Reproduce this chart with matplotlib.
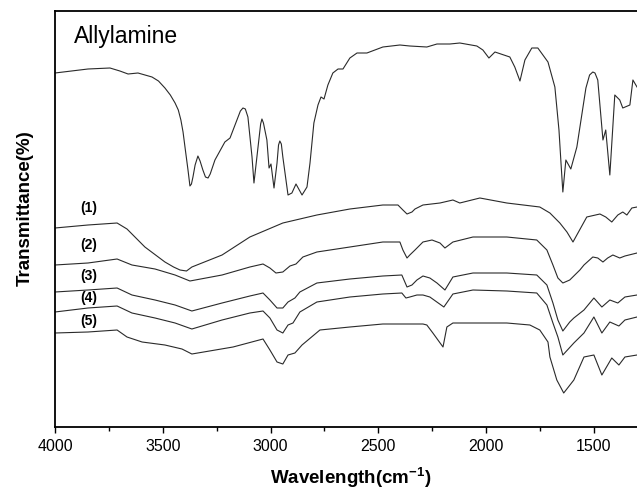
import matplotlib
matplotlib.use("Agg")
import matplotlib.pyplot as plt
from matplotlib.ticker import MultipleLocator

plt.rcParams['font.family'] = ['Liberation Sans', 'DejaVu Sans']
plt.rcParams['mathtext.fontset'] = 'custom'
plt.rcParams['mathtext.bf'] = 'Liberation Sans:bold'
plt.rcParams['mathtext.rm'] = 'Liberation Sans'

# allylamine reference spectrum (arbitrary transmittance units)
wn_ally = [4000, 3847, 3745, 3699, 3661, 3615, 3550, 3520, 3490, 3465, 3443, 3428, 3416,
           3406, 3397, 3383, 3374, 3367, 3360, 3350, 3337, 3327, 3314, 3302, 3290, 3280,
           3258, 3212, 3188, 3156, 3140, 3128, 3117, 3105, 3086, 3077, 3046, 3040, 3033,
           3017, 3007, 2998, 2984, 2970, 2963, 2957, 2950, 2943, 2919, 2901, 2882, 2854,
           2831, 2817, 2799, 2780, 2766, 2752, 2734, 2711, 2687, 2664, 2632, 2599, 2553,
           2479, 2400, 2354, 2275, 2228, 2168, 2122, 2043, 2015, 1987, 1959, 1890, 1867,
           1843, 1820, 1788, 1760, 1713, 1681, 1662, 1652, 1644, 1630, 1607, 1579, 1537,
           1520, 1505, 1495, 1482, 1458, 1445, 1426, 1403, 1380, 1366, 1333, 1319, 1300]
t_ally = [354, 358, 359, 356, 353, 354, 350, 346, 339, 332, 324, 317, 307,
          295, 280, 257, 241, 243, 250, 262, 271, 266, 257, 250, 249, 253,
          267, 285, 289, 307, 316, 319, 318, 310, 270, 244, 303, 308, 304,
          287, 259, 263, 239, 264, 282, 286, 283, 270, 232, 234, 243, 232,
          240, 264, 304, 322, 330, 328, 342, 354, 358, 358, 369, 374, 374,
          380, 382, 381, 380, 383, 383, 384, 381, 377, 369, 375, 370, 360,
          346, 367, 379, 379, 365, 340, 297, 262, 235, 267, 258, 280, 339,
          352, 355, 354, 347, 287, 297, 252, 332, 327, 319, 322, 347, 340]

wn1 = [4000, 3847, 3712, 3666, 3583, 3490, 3450, 3420, 3390, 3365, 3225, 3096, 2943, 2785,
       2632, 2479, 2409, 2386, 2367, 2344, 2330, 2293, 2214, 2154, 2122, 2029, 1904, 1751,
       1704, 1658, 1625, 1597, 1574, 1533, 1472, 1445, 1417, 1389, 1366, 1347, 1324, 1300]
t1 = [199, 202, 204, 198, 180, 165, 160, 157, 156, 160, 172, 190, 204, 212,
      218, 222, 222, 217, 213, 215, 218, 222, 224, 227, 224, 229, 224, 220,
      214, 204, 195, 185, 194, 210, 213, 210, 205, 212, 215, 212, 219, 220]

wn2 = [4000, 3847, 3712, 3643, 3536, 3443, 3374, 3225, 3096, 3035, 3003, 2975, 2943, 2910,
       2882, 2850, 2785, 2632, 2479, 2400, 2386, 2367, 2354, 2330, 2293, 2251, 2214, 2191,
       2154, 2061, 1904, 1765, 1718, 1690, 1667, 1644, 1612, 1565, 1546, 1505, 1482, 1458,
       1436, 1412, 1380, 1356, 1300]
t2 = [162, 164, 168, 162, 158, 152, 146, 152, 160, 163, 159, 154, 155, 161,
      163, 170, 175, 180, 185, 185, 177, 169, 172, 177, 185, 187, 184, 179,
      185, 190, 190, 187, 177, 162, 149, 144, 147, 157, 162, 170, 169, 165,
      169, 172, 169, 171, 174]

wn3 = [4000, 3847, 3712, 3643, 3536, 3443, 3365, 3225, 3096, 3035, 3003, 2970, 2943, 2919,
       2887, 2864, 2785, 2632, 2479, 2391, 2367, 2344, 2321, 2293, 2261, 2228, 2191, 2154,
       2061, 1904, 1765, 1718, 1690, 1667, 1644, 1612, 1593, 1546, 1500, 1463, 1426, 1389,
       1356, 1300]
t3 = [135, 137, 139, 132, 127, 122, 116, 124, 131, 134, 127, 119, 119, 125,
      129, 135, 144, 148, 151, 152, 140, 142, 147, 151, 149, 144, 137, 150,
      154, 154, 152, 142, 124, 107, 96, 105, 109, 117, 129, 120, 127, 124,
      130, 132]

wn4 = [4000, 3847, 3712, 3643, 3536, 3443, 3365, 3225, 3096, 3035, 3003, 2970, 2943, 2919,
       2896, 2864, 2785, 2632, 2479, 2391, 2372, 2354, 2321, 2293, 2261, 2196, 2154, 2061,
       1904, 1765, 1718, 1690, 1667, 1644, 1593, 1546, 1500, 1463, 1426, 1384, 1356, 1300]
t4 = [115, 119, 121, 114, 109, 104, 98, 107, 114, 116, 109, 97, 94, 102,
      104, 115, 125, 130, 133, 134, 129, 130, 132, 132, 130, 120, 133, 137,
      136, 134, 122, 104, 90, 72, 84, 94, 110, 94, 105, 101, 107, 110]

wn5 = [4000, 3847, 3712, 3666, 3596, 3490, 3411, 3365, 3174, 3035, 3003, 2970, 2943, 2919,
       2887, 2854, 2771, 2632, 2479, 2293, 2275, 2247, 2200, 2182, 2154, 2061, 1904, 1797,
       1751, 1713, 1704, 1672, 1640, 1593, 1546, 1500, 1463, 1417, 1384, 1356, 1300]
t5 = [94, 95, 97, 90, 85, 82, 78, 73, 80, 88, 77, 65, 63, 72,
      74, 82, 97, 100, 103, 103, 102, 94, 80, 100, 104, 104, 104, 102,
      97, 85, 70, 47, 34, 47, 70, 72, 52, 69, 62, 70, 72]

labels = ['(1)', '(2)', '(3)', '(4)', '(5)']
label_t = [219, 182, 151, 129, 106]

fig = plt.figure(figsize=(6.37, 4.90), dpi=100)
ax = fig.add_axes([55 / 637, 1 - 427 / 490, 1 - 55 / 637, 416 / 490])

line_col = '#2a2a2a'
for wn, t in [(wn_ally, t_ally), (wn1, t1), (wn2, t2), (wn3, t3), (wn4, t4), (wn5, t5)]:
    ax.plot(wn, t, color=line_col, lw=0.8)

for lab, yy in zip(labels, label_t):
    ax.text(3842, yy, lab, fontsize=10, fontweight='bold', ha='center', va='center')

ax.text(0.033, 0.9375, 'Allylamine', transform=ax.transAxes, fontsize=16.5,
        ha='left', va='center')

ax.set_xlim(4000, 1300)
ax.set_ylim(0, 416)
ax.xaxis.set_major_locator(MultipleLocator(500))
ax.xaxis.set_minor_locator(MultipleLocator(250))
ax.tick_params(axis='x', which='major', direction='out', length=4.5, width=1.0,
               labelsize=11.5, pad=4)
ax.tick_params(axis='x', which='minor', direction='out', length=3, width=1.0)
ax.set_yticks([])
ax.spines['right'].set_visible(False)
for s in ['left', 'top', 'bottom']:
    ax.spines[s].set_linewidth(1.3)

fig.text(25 / 637, 1 - 208 / 490, 'Transmittance(%)', rotation=90, fontsize=13.5,
         fontweight='bold', ha='center', va='center')
fig.text(351 / 637, 1 - 478 / 490, r'Wavelength(cm$^{\mathbf{-1}}$)', fontsize=13.5,
         fontweight='bold', ha='center', va='center')

fig.savefig('out.png', dpi=100)
